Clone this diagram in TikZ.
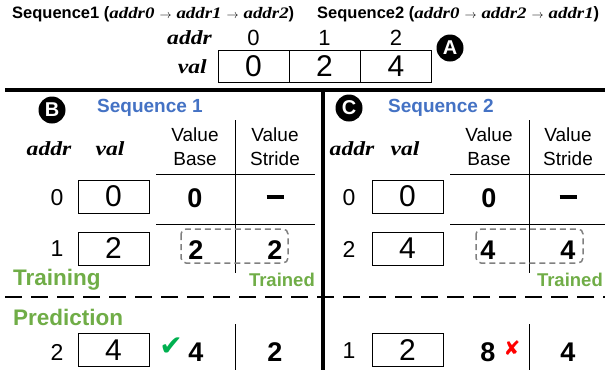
\documentclass[tikz,border=0pt]{standalone}
\usepackage{fontspec}
\setmainfont{Liberation Sans}
\newfontfamily\serifbi{Liberation Serif}
\newfontfamily\symfont{DejaVu Sans}
\usepackage{xcolor}
\usepackage{graphicx}
\usepackage{tikz}
\usetikzlibrary{calc}
\definecolor{seqblue}{HTML}{4472C4}
\definecolor{phasegreen}{HTML}{70AD47}
\definecolor{okgreen}{HTML}{00B050}
\definecolor{badred}{HTML}{FF0000}
\definecolor{dashgray}{HTML}{808080}
\newcommand{\fs}[1]{\fontsize{#1}{#1}\selectfont}
\newcommand{\mvar}[1]{\scalebox{1.18}[1]{\serifbi\bfseries\itshape #1}}
\newcommand{\go}{\hspace{5pt}{\fs{13}$\rightarrow$}\hspace{5pt}}
\tikzset{
  sep/.style={draw=black, line width=3.6pt},
  rule/.style={draw=black, line width=0.8pt},
  phaseline/.style={draw=black, line width=1.8pt, dash pattern=on 17pt off 9pt},
  trainbox/.style={draw=dashgray, line width=1.5pt, dash pattern=on 6pt off 4pt, rounded corners=5pt},
  cell/.style={draw=black, line width=0.9pt, minimum width=71pt, minimum height=33pt, inner sep=0pt, font=\fs{30}},
  idx/.style={inner sep=0pt, font=\fs{23}},
  hdr/.style={inner sep=0pt, font=\fs{20}},
  colhdr/.style={inner sep=0pt, align=center, font=\fs{19}\linespread{1.26}\selectfont},
  big/.style={inner sep=0pt, font=\fs{27}\bfseries},
  badge/.style={circle, fill=black, text=white, minimum size=27pt, inner sep=0pt, font=\fs{20}\bfseries},
  seq/.style={inner sep=0pt, text=seqblue, font=\fs{19}\bfseries},
  phase/.style={inner sep=0pt, text=phasegreen, font=\fs{22.5}\bfseries},
  done/.style={inner sep=0pt, text=phasegreen, font=\fs{18.5}\bfseries},
  title/.style={inner sep=0pt, font=\fs{16.5}\bfseries},
}

\begin{document}
\begin{tikzpicture}[x=1pt, y=-1pt]
  \useasboundingbox (0,0) rectangle (605,370);

  % access orders
  \node[title, anchor=west] (seqa) at (12,14.5)
    {Sequence1 ({\fs{16}\mvar{addr0}\go\mvar{addr1}\go\mvar{addr2}})};
  \node[title, anchor=west] (seqb) at (317,14.5)
    {Sequence2 ({\fs{16}\mvar{addr0}\go\mvar{addr2}\go\mvar{addr1}})};

  % memory contents
  \node[hdr, anchor=east] (maddr) at (212,38) {\mvar{addr}};
  \node[hdr, anchor=east] (mval) at (207,67) {\mvar{val}};
  \foreach \i/\x/\v in {0/253.5/0, 1/324.5/2, 2/396/4} {
    \node[idx, font=\fs{22}] (ma\i) at (\x,38) {\i};
    \node[cell, minimum height=32pt] (mv\i) at (\x,66) {\v};
  }
  \node[badge] (bA) at (450,48) {A};

  % panel borders
  \draw[sep] (5,90) -- (605,90);
  \draw[sep] (323,90) -- (323,370);
  \draw[phaseline] (5,297) -- (605,297);

  % ---- sequence 1 ----
  \node[badge] (bB) at (52,110) {B};
  \node[seq, anchor=west] (sa) at (97,108) {Sequence 1};
  \node[hdr] (ha) at (49,149) {\mvar{addr}};
  \node[hdr] (hv) at (110,149) {\mvar{val}};
  \node[colhdr] (hb) at (195,147) {Value\\Base};
  \node[colhdr] (hs) at (275,147) {Value\\Stride};
  \draw[rule] (156,174) -- (315,174);
  \draw[rule] (156,224) -- (315,224);
  \draw[rule] (235,120) -- (235,273);
  \draw[rule] (235,324) -- (235,370);

  \node[idx] (a0) at (57,198) {0};
  \node[cell] (v0) at (113.5,196.5) {0};
  \node[big] (b0) at (195,198) {0};
  \node[big] (s0) at (275,197) {\rule{17pt}{4pt}};

  \node[idx] (a1) at (57,249) {1};
  \node[cell] (v1) at (113.5,248.5) {2};
  \node[big] (b1) at (196,250) {2};
  \node[big] (s1) at (275,250) {2};
  \draw[trainbox] (181,229) rectangle (288,263);
  \node[phase, anchor=west] (tr) at (13,280) {Training};
  \node[done, anchor=east] (dn) at (315,280) {Trained};
  \node[phase, anchor=west] (pr) at (13,317) {Prediction};

  \node[idx] (a2) at (57,352) {2};
  \node[cell] (v2) at (113.5,350) {4};
  \node[inner sep=0pt, text=okgreen, font=\symfont\fs{28}] (ok) at (171,347) {✔};
  \node[big] (b2) at (196,352) {4};
  \node[big] (s2) at (275,352) {2};

  % ---- sequence 2 ----
  \node[badge] (bC) at (349,108) {C};
  \node[seq, anchor=west] (sb) at (388,108) {Sequence 2};
  \node[hdr] (hc) at (352,149) {\mvar{addr}};
  \node[hdr] (hw) at (405,149) {\mvar{val}};
  \node[colhdr] (hc1) at (489,147) {Value\\Base};
  \node[colhdr] (hc2) at (568,147) {Value\\Stride};
  \draw[rule] (450,174) -- (605,174);
  \draw[rule] (450,224) -- (605,224);
  \draw[rule] (529,120) -- (529,273);
  \draw[rule] (529,324) -- (529,370);

  \node[idx] (c0) at (349,198) {0};
  \node[cell] (w0) at (407.5,196.5) {0};
  \node[big] (d0) at (489,198) {0};
  \node[big] (t0) at (568,197) {\rule{17pt}{4pt}};

  \node[idx] (c1) at (349,249) {2};
  \node[cell] (w1) at (407.5,248.5) {4};
  \node[big] (d1) at (488,250) {4};
  \node[big] (t1) at (568,250) {4};
  \draw[trainbox] (476,229) rectangle (583,263);
  \node[done, anchor=east] (dm) at (603,280) {Trained};

  \node[idx] (c2) at (349,351) {1};
  \node[cell] (w2) at (407.5,350) {2};
  \node[big] (d2) at (488,352) {8};
  \node[inner sep=0pt, text=badred, font=\symfont\fs{20}] (bad) at (512,348) {✘};
  \node[big] (t2) at (568,352) {4};
\end{tikzpicture}
\end{document}
